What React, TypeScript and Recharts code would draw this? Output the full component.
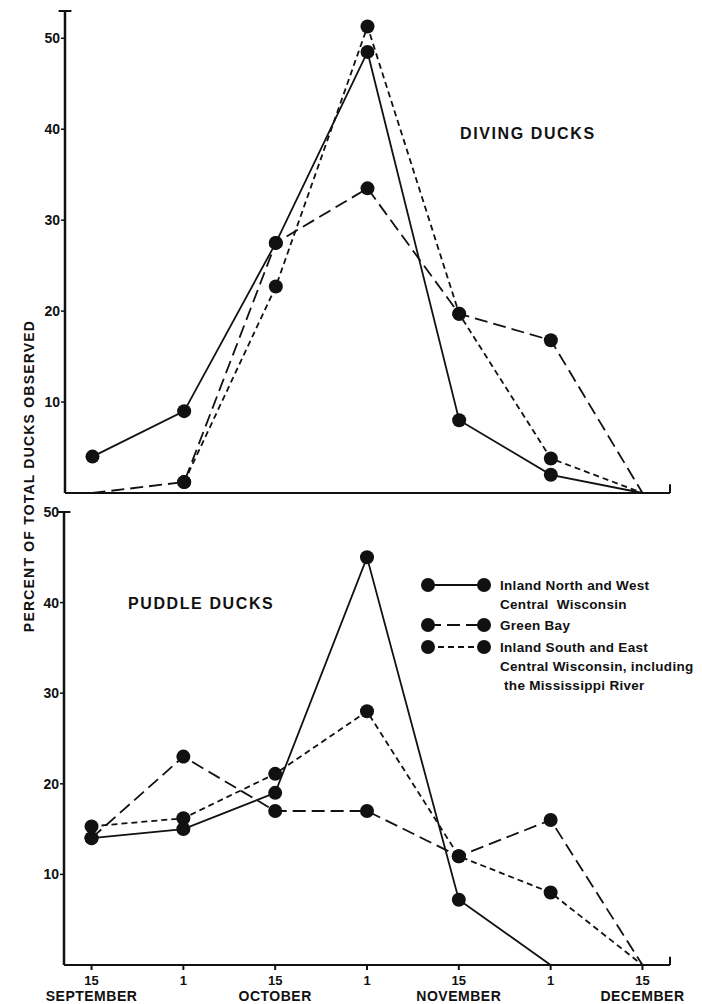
import React from "react";
import { LineChart, Line, XAxis, YAxis, ReferenceLine } from "recharts";

// 半月ごとの観測日
const dayLabels = ["15", "1", "15", "1", "15", "1", "15"];
const monthLabels = ["SEPTEMBER", "", "OCTOBER", "", "NOVEMBER", "", "DECEMBER"];
const yTicks = [10, 20, 30, 40, 50];

// Diving ducks
const divingNorthWest = [4, 9, 27.5, 48.5, 8, 2, 0];
const divingGreenBay = [0, 1.2, 27.5, 33.5, 19.7, 16.8, 0];
const divingSouthEast = [null, 1.2, 22.7, 51.3, 19.7, 3.8, 0];

// Puddle ducks
const puddleNorthWest = [14, 15, 19, 45, 7.2, 0, null];
const puddleGreenBay = [14, 23, 17, 17, 12, 16, 0];
const puddleSouthEast = [15.3, 16.2, 21.1, 28, 12, 8, 0];

const seriesNames = ["nw", "gb", "se"];
const legendLines = [
  ["Inland North and West", "Central  Wisconsin"],
  ["Green Bay"],
  ["Inland South and East", "Central Wisconsin, including", "\u00a0the Mississippi River"],
];

const INK = "#111";
const FONT = '"Liberation Sans", Arial, sans-serif';
const dashes = [undefined, "13 6", "6 4"];

const buildRows = (nw, gb, se) =>
  dayLabels.map((_, i) => ({ x: i, nw: nw[i], gb: gb[i], se: se[i] }));

const divingRows = buildRows(divingNorthWest, divingGreenBay, divingSouthEast);
const puddleRows = buildRows(puddleNorthWest, puddleGreenBay, puddleSouthEast);

// 0 の点には丸を付けない
const renderDot = (props) => {
  const { cx, cy, value, index } = props;
  if (cy == null || value == null || value <= 0) return <g key={`e-${index}`} />;
  return <circle key={`d-${index}`} cx={cx} cy={cy} r={7} fill={INK} />;
};

const DateTick = (props) => {
  const { x, y, payload } = props;
  const i = payload.value;
  return (
    <g>
      <text x={x} y={y + 13} textAnchor="middle" fontSize={13} fontWeight="bold" fill={INK} fontFamily={FONT}>
        {dayLabels[i]}
      </text>
      <text
        x={x}
        y={y + 29}
        textAnchor="middle"
        fontSize={14}
        fontWeight="bold"
        letterSpacing={0.5}
        fill={INK}
        fontFamily={FONT}
      >
        {monthLabels[i]}
      </text>
    </g>
  );
};

const LegendBox = () => {
  const rowTops = [0, 40, 62];
  return (
    <div style={{ position: "absolute", left: 420, top: 575, width: 280, height: 120, fontFamily: FONT, color: INK }}>
      {legendLines.map((lines, k) => (
        <div key={k} style={{ position: "absolute", left: 0, top: rowTops[k] }}>
          <svg width={72} height={20} style={{ position: "absolute", left: 0, top: 0 }}>
            <line x1={8} y1={10} x2={64} y2={10} stroke={INK} strokeWidth={1.8} strokeDasharray={dashes[k]} />
            <circle cx={8} cy={10} r={7} fill={INK} />
            <circle cx={64} cy={10} r={7} fill={INK} />
          </svg>
          <div
            style={{
              position: "absolute",
              left: 80,
              top: 1,
              width: 200,
              fontSize: 13.5,
              letterSpacing: 0.3,
              fontWeight: "bold",
              lineHeight: "19px",
              whiteSpace: "pre",
            }}
          >
            {lines.map((t, j) => (
              <div key={j}>{t}</div>
            ))}
          </div>
        </div>
      ))}
    </div>
  );
};

const Panel = ({ rows, height, top, yMax, xHeight, marginTop, yWidth, showDates }) => (
  <div style={{ position: "absolute", left: 0, top }}>
    <LineChart width={702} height={height} data={rows} margin={{ top: marginTop, right: 32, left: 0, bottom: 0 }}>
      <XAxis
        dataKey="x"
        type="number"
        domain={[-0.3, 6.3]}
        ticks={[0, 1, 2, 3, 4, 5, 6]}
        height={xHeight}
        axisLine={{ stroke: INK, strokeWidth: 2 }}
        tickLine={{ stroke: INK, strokeWidth: 2 }}
        tickSize={5}
        tick={showDates ? <DateTick /> : false}
      />
      <YAxis
        type="number"
        domain={[0, yMax]}
        ticks={yTicks}
        width={yWidth}
        axisLine={{ stroke: INK, strokeWidth: 2.5 }}
        tickLine={{ stroke: INK, strokeWidth: 1.5 }}
        tickSize={4}
        tickMargin={1}
        tick={{ fill: INK, fontSize: 14, fontWeight: "bold", fontFamily: FONT }}
      />
      <ReferenceLine
        segment={[{ x: -0.37, y: yMax }, { x: -0.23, y: yMax }]}
        stroke={INK}
        strokeWidth={2}
        ifOverflow="visible"
      />
      <ReferenceLine
        segment={[{ x: 6.3, y: 0 }, { x: 6.3, y: yMax * 0.018 }]}
        stroke={INK}
        strokeWidth={2}
        ifOverflow="visible"
      />
      {seriesNames.map((key, k) => (
        <Line
          key={key}
          type="linear"
          dataKey={key}
          stroke={INK}
          strokeWidth={1.8}
          strokeDasharray={dashes[k]}
          dot={renderDot}
          activeDot={false}
          connectNulls={false}
          isAnimationActive={false}
        />
      ))}
    </LineChart>
  </div>
);

const textStyle = {
  position: "absolute",
  fontFamily: FONT,
  fontWeight: "bold",
  color: INK,
  whiteSpace: "nowrap",
};

export default function App() {
  return (
    <div style={{ position: "absolute", left: 0, top: 0, width: 702, height: 1004, background: "#fff", overflow: "hidden" }}>
      <Panel rows={divingRows} top={0} height={520} yMax={53} xHeight={27} marginTop={11} yWidth={65} showDates={false} />
      <Panel rows={puddleRows} top={500} height={504} yMax={50} xHeight={39} marginTop={12} yWidth={64} showDates />
      <LegendBox />
      <div style={{ ...textStyle, left: 460, top: 125, fontSize: 16, letterSpacing: 1.6 }}>DIVING DUCKS</div>
      <div style={{ ...textStyle, left: 128, top: 595, fontSize: 16, letterSpacing: 1.6 }}>PUDDLE DUCKS</div>
      <div
        style={{
          ...textStyle,
          left: 29,
          top: 476,
          fontSize: 14,
          letterSpacing: 1.2,
          transform: "translate(-50%, -50%) rotate(-90deg)",
        }}
      >
        PERCENT OF TOTAL DUCKS OBSERVED
      </div>
    </div>
  );
}
